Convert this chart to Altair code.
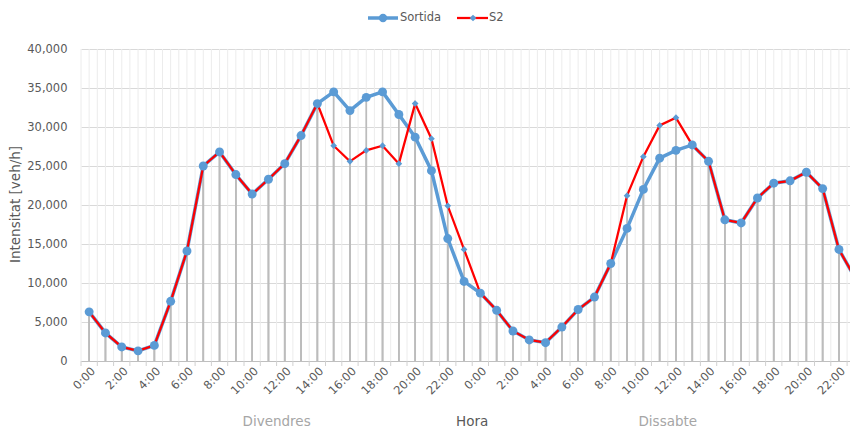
import altair as alt
import pandas as pd

# ---- data ----
hour_labels = [f"{h}:00" for h in range(24)]
days = ["Divendres", "Dissabte"]

sortida = [6300, 3600, 1800, 1300, 2000, 7650, 14100, 25000, 26800, 23900, 21400, 23300,
           25300, 28900, 33000, 34500, 32100, 33800, 34500, 31600, 28700, 24400, 15700, 10200,
           8700, 6500, 3850, 2700, 2350, 4350, 6600, 8200, 12500, 17000, 22000, 26000,
           27000, 27700, 25600, 18100, 17700, 20900, 22800, 23100, 24200, 22100, 14300, 10600]

s2 = [6300, 3600, 1800, 1300, 2000, 7650, 14100, 25000, 26800, 23900, 21400, 23300,
      25300, 28900, 33000, 27600, 25600, 27000, 27600, 25300, 33000, 28500, 19900, 14300,
      8700, 6500, 3850, 2700, 2350, 4350, 6600, 8200, 12500, 21200, 26200, 30200,
      31200, 27700, 25600, 18100, 17700, 20900, 22800, 23100, 24200, 22100, 14300, 10600]

series_names = ["Sortida", "S2"]
y_ticks = list(range(0, 40001, 5000))

# ---- tables ----
n = len(sortida)
rows = []
for i in range(n):
    rows.append({"x": i + 0.5, "value": sortida[i], "serie": series_names[0]})
    rows.append({"x": i + 0.5, "value": s2[i], "serie": series_names[1]})
df = pd.DataFrame(rows)
df_s = df[df.serie == "Sortida"]
df_2 = df[df.serie == "S2"]

grid_df = pd.DataFrame({"g": [k * 0.5 for k in range(2 * n)]})
tick_df = pd.DataFrame({"t": list(range(n))})
day_df = pd.DataFrame({"pos": [12, 36], "label": days})
hora_df = pd.DataFrame({"pos": [24], "label": ["Hora"]})
one = pd.DataFrame({"a": [0]})

STEP = 16.3
W, H = 769, 312
BLUE = "#5b9bd5"
RED = "#ff0000"
GRAY_TXT = "#595959"
FONT = "DejaVu Sans"

xscale = alt.Scale(domain=[0, W / STEP], nice=False, zero=False)
xaxis = alt.Axis(values=[i + 0.5 for i in range(0, n, 2)],
                 labelExpr="(floor(datum.value) % 24) + ':00'",
                 labelAngle=-45, labelFontSize=11.5, labelColor=GRAY_TXT, labelFont=FONT,
                 labelPadding=4, ticks=False, grid=False, domainColor="#bfbfbf",
                 domainWidth=1, title=None, labelOverlap=False, labelBound=False)
yscale = alt.Scale(domain=[0, 40000], nice=False)
yaxis = alt.Axis(values=y_ticks, labelExpr="format(datum.value, ',')", ticks=False, domain=False,
                 labelPadding=14, labelFontSize=11.5, labelColor=GRAY_TXT, labelFont=FONT,
                 gridColor="#d9d9d9", gridWidth=1,
                 title="Intensitat [veh/h]", titleFontSize=13.5, titleFontWeight="normal",
                 titleColor=GRAY_TXT, titleFont=FONT, titleX=-66, titleY=155,
                 titleAngle=-90, titleBaseline="middle", titleAlign="center")

X = lambda f: alt.X(f, type="quantitative", scale=xscale, axis=xaxis)
Y = alt.Y("value:Q", scale=yscale, axis=yaxis)

vgrid = alt.Chart(grid_df).mark_rule(color="#ececec", strokeWidth=1).encode(
    x=X("g"), y=alt.value(0), y2=alt.value(H))

base_axes = alt.Chart(df).mark_line(opacity=0).encode(x=X("x"), y=Y, detail="serie:N")

drops = alt.Chart(df).mark_rule(color="#bcbcbc", strokeWidth=1.75).encode(
    x=X("x"), y=Y, y2=alt.datum(0))

ticks = alt.Chart(tick_df).mark_rule(color="#d0d0d0", strokeWidth=1).encode(
    x=X("t"), y=alt.value(H), y2=alt.value(H + 5))

line_s = alt.Chart(df_s).mark_line(color=BLUE, strokeWidth=3.5).encode(x=X("x"), y=Y)
line_2 = alt.Chart(df_2).mark_line(color=RED, strokeWidth=2.25).encode(x=X("x"), y=Y)
pts_s = alt.Chart(df_s).mark_point(shape="circle", filled=True, size=80, color=BLUE,
                                   opacity=1).encode(x=X("x"), y=Y)
pts_2 = alt.Chart(df_2).mark_point(shape="diamond", filled=True, size=45, color=BLUE,
                                   opacity=1).encode(x=X("x"), y=Y)

day_text = alt.Chart(day_df).mark_text(fontSize=13.5, color="#a6a6a6", font=FONT,
                                       baseline="middle").encode(
    x=X("pos"), y=alt.value(H + 61), text="label:N")
hora_text = alt.Chart(hora_df).mark_text(fontSize=13.5, color=GRAY_TXT, font=FONT,
                                         baseline="middle").encode(
    x=X("pos"), y=alt.value(H + 61), text="label:N")

# ---- custom legend ----
LY = -31
leg = [
    alt.Chart(one).mark_rule(color=BLUE, strokeWidth=3.5).encode(
        x=alt.value(287), x2=alt.value(317), y=alt.value(LY)),
    alt.Chart(one).mark_point(shape="circle", filled=True, size=70, color=BLUE, opacity=1).encode(
        x=alt.value(302), y=alt.value(LY)),
    alt.Chart(one).mark_text(text="Sortida", align="left", baseline="middle", fontSize=11.5,
                             color=GRAY_TXT, font=FONT).encode(x=alt.value(319), y=alt.value(LY)),
    alt.Chart(one).mark_rule(color=RED, strokeWidth=2.25).encode(
        x=alt.value(376), x2=alt.value(407), y=alt.value(LY)),
    alt.Chart(one).mark_point(shape="diamond", filled=True, size=45, color=BLUE, opacity=1).encode(
        x=alt.value(392), y=alt.value(LY)),
    alt.Chart(one).mark_text(text="S2", align="left", baseline="middle", fontSize=11.5,
                             color=GRAY_TXT, font=FONT).encode(x=alt.value(408), y=alt.value(LY)),
]

chart = alt.layer(
    vgrid, base_axes, drops, ticks, line_s, line_2, pts_s, pts_2, day_text, hora_text, *leg
).properties(
    width=W, height=H, autosize="none",
    padding={"left": 73, "top": 41, "right": 0, "bottom": 67},
    background="white",
).configure_view(stroke=None)

chart.save("out.html", embed_options={"renderer": "svg", "actions": False})
